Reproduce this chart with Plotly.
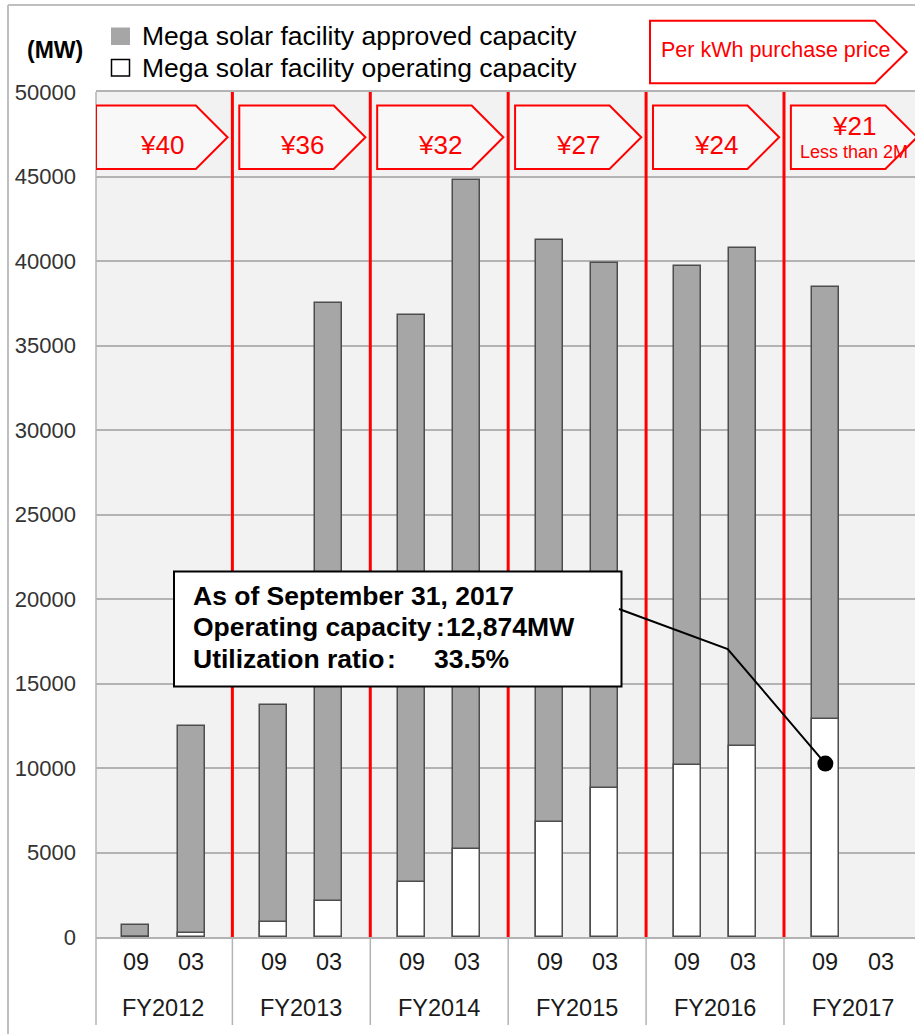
import plotly.graph_objects as go

# ---------------- data ----------------
fiscal_years = ["FY2012", "FY2013", "FY2014", "FY2015", "FY2016", "FY2017"]
halves = ["09", "03"]
approved_mw = [730, 12490, 13700, 37520, 36790, 44810, 41265, 39865, 39690, 40790, 38445, None]
operating_mw = [0, 260, 880, 2140, 3260, 5235, 6790, 8825, 10200, 11320, 12874, None]
prices = ["¥40", "¥36", "¥32", "¥27", "¥24", "¥21"]
price_notes = ["", "", "", "", "", "Less than 2M"]
y_ticks = list(range(0, 50001, 5000))
legend_labels = ["Mega solar facility approved capacity", "Mega solar facility operating capacity"]
callout_lines = [("As of September 31, 2017", "", ""),
                 ("Operating capacity", ":", "12,874MW"),
                 ("Utilization ratio", ":", "33.5%")]
callout_dot_value = 10260

# ---------------- layout helpers ----------------
W, H = 915, 1034
L, R, T, B = 96, 915, 92, 937
FONT = "Liberation Sans, Arial, sans-serif"
RED = "#ff0000"
half_offset = {"09": 0.30, "03": 0.70}


def PX(x):
    return (x - L) / (R - L)


def PY(y):
    return (B - y) / (B - T)


def ann(x, y, text, size, color="black", xanchor="center", xref="paper", yref="paper"):
    return dict(x=x, y=y, xref=xref, yref=yref, text=text, showarrow=False,
                xanchor=xanchor, yanchor="middle",
                font=dict(family=FONT, size=size, color=color))


xs = []
for gi, fy in enumerate(fiscal_years):
    for h in halves:
        xs.append(gi + half_offset[h])

fig = go.Figure()
fig.add_trace(go.Bar(x=xs, y=approved_mw, width=0.196,
                     marker=dict(color="#a6a6a6", line=dict(color="#4d4d4d", width=1.5)),
                     showlegend=False))
fig.add_trace(go.Bar(x=xs, y=operating_mw, width=0.196,
                     marker=dict(color="#ffffff", line=dict(color="#4d4d4d", width=1.5)),
                     showlegend=False))

# callout dot on FY2017-09 bar
fig.add_trace(go.Scatter(x=[len(fiscal_years) - 1 + half_offset["09"]], y=[callout_dot_value],
                         mode="markers", marker=dict(size=16, color="black"),
                         showlegend=False))

shapes = []
annotations = []

# red fiscal-year separators and grey label separators
for g in range(1, len(fiscal_years)):
    shapes.append(dict(type="line", xref="x", yref="y", x0=g, x1=g, y0=0, y1=50000,
                       line=dict(color=RED, width=3), layer="above"))
    shapes.append(dict(type="line", xref="x", yref="paper", x0=g, x1=g, y0=0, y1=PY(1025),
                       line=dict(color="#b3b3b3", width=1.5)))
# left axis line extended down through label area
shapes.append(dict(type="line", xref="paper", yref="paper", x0=0, x1=0, y0=1, y1=PY(1025),
                   line=dict(color="#b3b3b3", width=1.5)))
# outer frame
shapes.append(dict(type="line", xref="paper", yref="paper", x0=PX(8), x1=PX(8), y0=PY(5), y1=PY(1040),
                   line=dict(color="#bfbfbf", width=2)))
shapes.append(dict(type="line", xref="paper", yref="paper", x0=PX(8), x1=PX(920), y0=PY(5), y1=PY(5),
                   line=dict(color="#bfbfbf", width=2)))

# price arrow boxes
top_v, bot_v = 49200, 45450
mid_v = (top_v + bot_v) / 2
for gi, p in enumerate(prices):
    left = gi + (0.05 if gi > 0 else 0.011)
    body = gi + 0.735
    tip = gi + 0.965
    shapes.append(dict(type="path", xref="x", yref="y",
                       path=f"M {left},{bot_v} L {left},{top_v} L {body},{top_v} L {tip},{mid_v} L {body},{bot_v} Z",
                       fillcolor="#f8f8f8", line=dict(color=RED, width=2), layer="above"))
    cx = (left + tip) / 2
    if price_notes[gi]:
        annotations.append(ann(cx, 47988, p, 26, RED, xref="x", yref="y"))
        annotations.append(ann(cx, 46467, price_notes[gi], 18, RED, xref="x", yref="y"))
    else:
        annotations.append(ann(cx, 46864, p, 26, RED, xref="x", yref="y"))

# "Per kWh purchase price" box
pl, pb, pt, pbody, ptip = PX(650), PY(83.3), PY(20.7), PX(875), PX(906.7)
pm = PY(52)
shapes.append(dict(type="path", xref="paper", yref="paper",
                   path=f"M {pl},{pb} L {pl},{pt} L {pbody},{pt} L {ptip},{pm} L {pbody},{pb} Z",
                   fillcolor="white", line=dict(color=RED, width=2)))
annotations.append(ann(PX(775), PY(50), "Per kWh purchase price", 21.5, RED))

# legend
shapes.append(dict(type="rect", xref="paper", yref="paper", x0=PX(111), x1=PX(130), y0=PY(27.5), y1=PY(45),
                   fillcolor="#a6a6a6", line=dict(width=0)))
shapes.append(dict(type="rect", xref="paper", yref="paper", x0=PX(111.5), x1=PX(129.5), y0=PY(59.5), y1=PY(76),
                   fillcolor="white", line=dict(color="black", width=1.5)))
for txt, yy in zip(legend_labels, [36.5, 68]):
    annotations.append(ann(PX(139.5), PY(yy), txt, 26.5, "black", xanchor="left"))
annotations.append(ann(PX(55), PY(50), "<b>(MW)</b>", 23, "black"))

# x labels
for gi, fy in enumerate(fiscal_years):
    for h in halves:
        annotations.append(ann(gi + half_offset[h], PY(962.5), h, 23.5, "#1a1a1a", xref="x"))
    annotations.append(ann(gi + 0.5, PY(1007.5), fy, 23.5, "#1a1a1a", xref="x"))

# callout box + leader
shapes.append(dict(type="rect", xref="paper", yref="paper", x0=PX(174), x1=PX(621.5), y0=PY(571.5), y1=PY(686.5),
                   fillcolor="white", line=dict(color="black", width=2), layer="above"))
shapes.append(dict(type="path", xref="paper", yref="paper",
                   path=f"M {PX(619)},{PY(609)} L {PX(727.7)},{PY(649)} L {PX(824.3)},{PY(762.3)}",
                   line=dict(color="black", width=2)))
line_y = [595.5, 626.7, 658.8]
for (a, c, b), yy in zip(callout_lines, line_y):
    annotations.append(ann(PX(191), PY(yy), f"<b>{a}</b>", 26.5, "black", xanchor="left"))
annotations.append(ann(PX(440), PY(line_y[1]), "<b>:</b>", 26.5))
annotations.append(ann(PX(444), PY(line_y[1]), f"<b>{callout_lines[1][2]}</b>", 26.5, xanchor="left"))
annotations.append(ann(PX(391), PY(line_y[2]), "<b>:</b>", 26.5))
annotations.append(ann(PX(432), PY(line_y[2]), f"<b>{callout_lines[2][2]}</b>", 26.5, xanchor="left"))

fig.update_layout(
    width=W, height=H,
    margin=dict(l=L, r=W - R, t=T, b=H - B, pad=0),
    paper_bgcolor="white", plot_bgcolor="#f2f2f2",
    barmode="overlay", bargap=0,
    shapes=shapes, annotations=annotations,
    showlegend=False,
    xaxis=dict(range=[0.011, 5.95], showgrid=False, zeroline=False, showticklabels=False, ticks="",
               showline=True, linecolor="#b3b3b3", linewidth=1.5, mirror=True, fixedrange=True),
    yaxis=dict(range=[0, 50000], tickvals=y_ticks, tickformat="d", showgrid=True,
               gridcolor="#b3b3b3", gridwidth=1.5, zeroline=False, showline=False, ticks="",
               ticklabelstandoff=19, tickfont=dict(family=FONT, size=22, color="#333333"), fixedrange=True),
)

fig.write_html("out.html")
